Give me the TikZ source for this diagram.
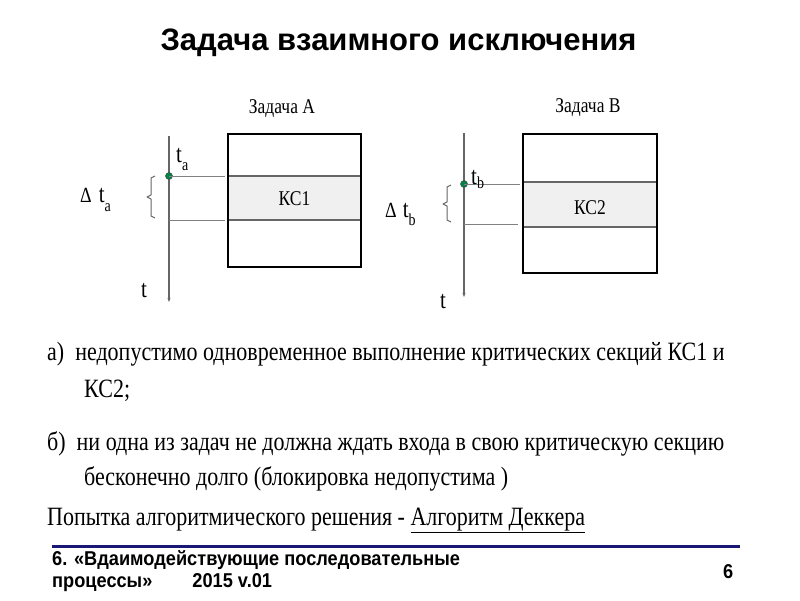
\documentclass[tikz,border=0pt]{standalone}
\usepackage{fontspec}
\usepackage{graphicx}
\setmainfont{Liberation Serif}
\newfontfamily\arialf{Liberation Sans}
\newcommand{\vstr}[1]{\scalebox{1}[1.2]{#1}}
\newcommand{\fstr}[1]{\scalebox{1}[1.1]{#1}}
\usetikzlibrary{arrows.meta}
\begin{document}
\begin{tikzpicture}[x=1pt,y=-1pt,
  axisline/.style={draw=black!60,line width=1.2pt,-{Stealth[length=4pt,width=3pt]}},
  guide/.style={draw=black!50,line width=1pt},
  box/.style={draw=black,line width=1.8pt},
  sep/.style={draw=black!60,line width=1.2pt},
  brc/.style={draw=black!60,line width=1pt,line join=round},
  dotst/.style={circle,fill=teal!70!green!80!black,draw=black!70,line width=0.5pt,inner sep=0pt,minimum size=7pt},
  lbl/.style={font=\fontsize{17.5}{20}\selectfont,inner sep=0pt,anchor=base},
  tlbl/.style={font=\fontsize{21}{24}\selectfont,inner sep=0pt,anchor=base west},
  body/.style={font=\fontsize{22}{24}\selectfont,inner sep=0pt,anchor=base west},
  foot/.style={font=\arialf\bfseries\fontsize{18.2}{20}\selectfont,inner sep=0pt,anchor=base west}]
\path[use as bounding box] (0,0) rectangle (800,600);
% title
\node[font=\arialf\bfseries\fontsize{31}{34}\selectfont,inner sep=0pt,anchor=base] (title) at (398.5,50) {Задача взаимного исключения};
\node[lbl] (zA) at (282,113) {\vstr{Задача А}};
\node[lbl] (zB) at (588,112) {\vstr{Задача В}};
% left diagram
\fill[black!6] (228,176) rectangle (361,220);
\draw[sep] (228,176) -- (361,176);
\draw[sep] (228,220) -- (361,220);
\node[box,minimum width=133pt,minimum height=133pt,inner sep=0pt] (boxA) at (294.5,200.5) {};
\node[lbl] (ks1) at (294.5,205) {\vstr{КС1}};
\coordinate (axAtop) at (169,136);
\coordinate (axAbot) at (169,302);
\draw[axisline] (axAtop) -- (axAbot);
\coordinate (gA1) at (225,176);
\coordinate (gA2) at (225,220);
\coordinate (gA2s) at (169,220);
\node[dotst] (dA) at (169,176) {};
\draw[guide] (dA.center) -- (gA1);
\draw[guide] (gA2s) -- (gA2);
\draw[brc] (155,176) -- (151,178) -- (151,195) -- (147,197) -- (151,199) -- (151,216) -- (155,218);
\node[tlbl] (ta) at (176,162) {\vstr{t}\raisebox{-8pt}{\fontsize{14}{16}\selectfont\vstr{a}}};
\node[tlbl] (dta) at (80,202) {\fontsize{18}{20}\selectfont\vstr{Δ}\hspace{7pt}\fontsize{21}{24}\selectfont\vstr{t}\raisebox{-9pt}{\fontsize{14}{16}\selectfont\vstr{a}}};
\node[tlbl] (tA) at (141,297) {\vstr{t}};
% right diagram
\fill[black!6] (523,182) rectangle (657,227);
\draw[sep] (523,182) -- (657,182);
\draw[sep] (523,227) -- (657,227);
\node[box,minimum width=134pt,minimum height=139pt,inner sep=0pt] (boxB) at (590,203.5) {};
\node[lbl] (ks2) at (590,214) {\vstr{КС2}};
\coordinate (axBtop) at (464,133);
\coordinate (axBbot) at (464,297);
\draw[axisline] (axBtop) -- (axBbot);
\coordinate (gB1) at (520,184);
\coordinate (gB2) at (518,224);
\coordinate (gB2s) at (464,224);
\node[dotst] (dB) at (464,184) {};
\draw[guide] (dB.center) -- (gB1);
\draw[guide] (gB2s) -- (gB2);
\draw[brc] (451,185) -- (447,187) -- (447,202) -- (443,204) -- (447,206) -- (447,220) -- (451,222);
\node[tlbl] (tb) at (471,184) {\vstr{t}\raisebox{-4pt}{\fontsize{14}{16}\selectfont\vstr{b}}};
\node[tlbl] (dtb) at (385,217) {\fontsize{18}{20}\selectfont\vstr{Δ}\hspace{6pt}\fontsize{21}{24}\selectfont\vstr{t}\raisebox{-8pt}{\fontsize{14}{16}\selectfont\vstr{b}}};
\node[tlbl] (tB) at (440,308) {\vstr{t}};
% body text
\node[body] (l1) at (47,360) {\vstr{а)\ \ недопустимо одновременное выполнение критических секций КС1 и}};
\node[body] (l2) at (84,397) {\vstr{КС2;}};
\node[body] (l3) at (47,450) {\vstr{б)\ \ ни одна из задач не должна ждать входа в свою критическую секцию}};
\node[body] (l4) at (84,485) {\vstr{бесконечно долго (блокировка недопустима )}};
\node[body] (l5) at (47,525) {\vstr{Попытка алгоритмического решения - \underline{Алгоритм Деккера}}};
% footer
\coordinate (fl1) at (52,546);
\coordinate (fl2) at (740,546);
\draw[draw=blue!40!black!90,line width=3pt] (fl1) -- (fl2);
\node[foot] (f1) at (52,565) {\fstr{6. «Вдаимодействующие последовательные}};
\node[foot] (f2) at (52,587) {\fstr{процессы»\hspace{2.2em}2015 v.01}};
\node[foot] (fn) at (723,578) {\fstr{6}};
\end{tikzpicture}
\end{document}
